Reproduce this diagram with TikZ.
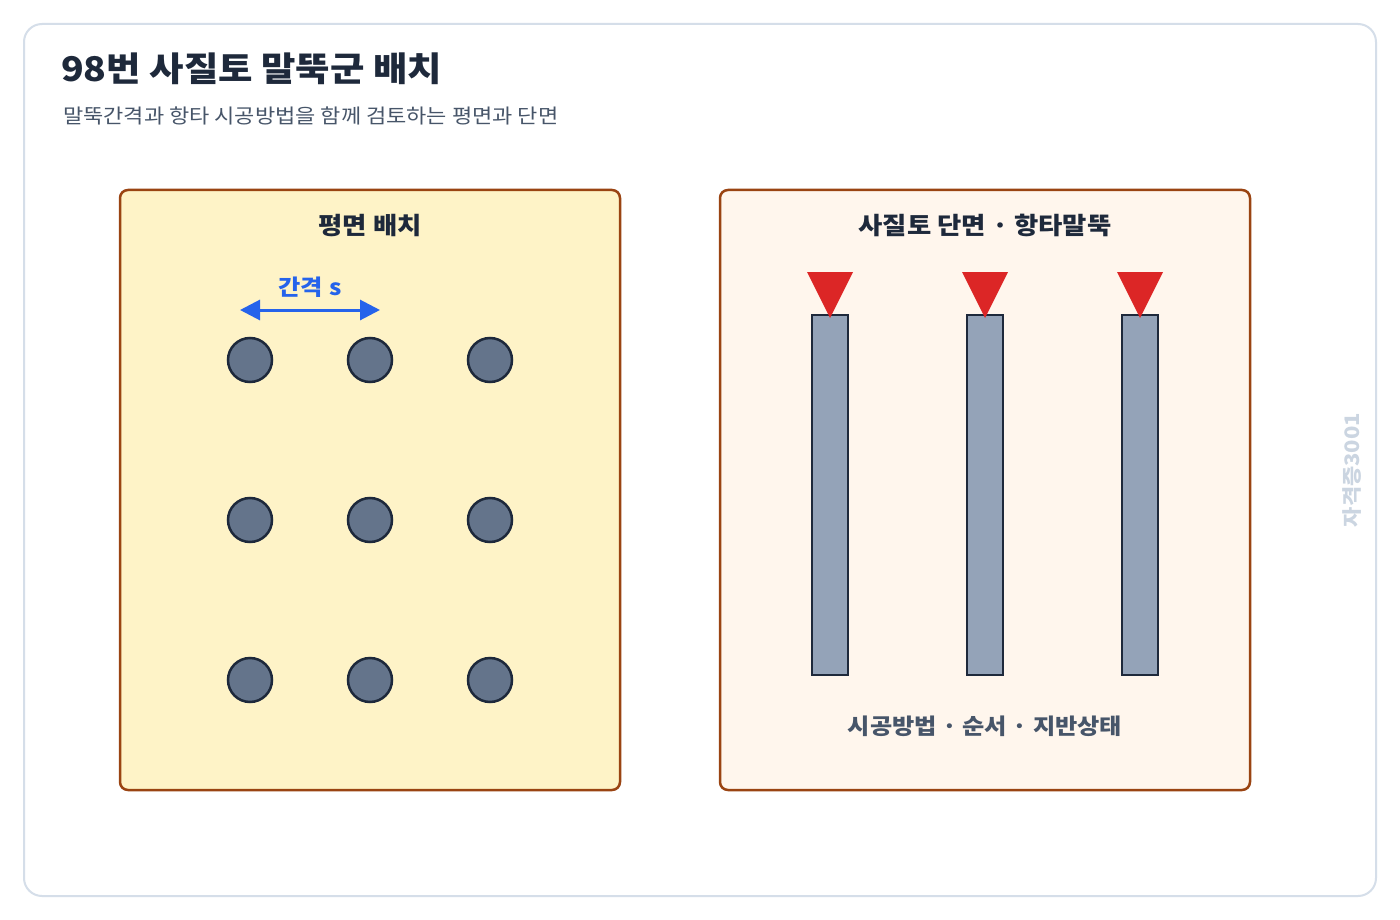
\documentclass[tikz,border=0pt]{standalone}
\usepackage{fontspec}
\setmainfont{Noto Sans CJK KR}[FakeStretch=1.1]
\usetikzlibrary{arrows.meta}
\definecolor{frame}{HTML}{D5DEE9}
\definecolor{ink}{HTML}{1E293B}
\definecolor{sub}{HTML}{475569}
\definecolor{brown}{HTML}{9A4412}
\definecolor{planfill}{HTML}{FEF3C7}
\definecolor{secfill}{HTML}{FFF6ED}
\definecolor{pilecirc}{HTML}{64748B}
\definecolor{pilebar}{HTML}{94A3B8}
\definecolor{hammer}{HTML}{DC2626}
\definecolor{blue}{HTML}{2563EB}
\definecolor{wm}{HTML}{CBD5E1}
\tikzset{
  panel/.style={draw=brown, line width=2.5pt, rounded corners=8pt},
  pilehead/.style={circle, draw=ink, fill=pilecirc, line width=2.5pt, minimum size=44pt, inner sep=0pt},
  pilebody/.style={draw=ink, fill=pilebar, line width=2.5pt, minimum width=36pt, minimum height=360pt, inner sep=0pt},
  hammertri/.style={fill=hammer},
  ptitle/.style={font=\fontsize{24}{28}\selectfont\bfseries, text=ink},
}
\begin{document}
\begin{tikzpicture}[x=1pt,y=-1pt]
\useasboundingbox (0,0) rectangle (1400,920);
\fill[white] (0,0) rectangle (1400,920);
\draw[frame, line width=2pt, rounded corners=18pt, fill=white] (24,24) rectangle (1376,896);
\node[anchor=base west, inner sep=0pt, font=\fontsize{34}{38}\selectfont\bfseries, text=ink] (title) at (61,82) {98번 사질토 말뚝군 배치};
\node[anchor=base west, inner sep=0pt, font=\fontsize{20}{24}\selectfont, text=sub] (subtitle) at (63,124) {말뚝간격과 항타 시공방법을 함께 검토하는 평면과 단면};
% left panel
\draw[panel, fill=planfill] (120,190) rectangle (620,790);
\node[ptitle, anchor=base] (lt) at (370,234) {평면 배치};
\foreach \i/\x in {1/250,2/370,3/490}
  \foreach \j/\y in {1/360,2/520,3/680}
    \node[pilehead] (c\i\j) at (\x,\y) {};
\coordinate (al) at (240,310);
\coordinate (ar) at (380,310);
\draw[blue, line width=3pt, {Triangle[length=20pt,width=20pt]}-{Triangle[length=20pt,width=20pt]}] (al) -- (ar);
\node[anchor=base, font=\fontsize{22}{26}\selectfont\bfseries, text=blue] (slab) at (310,295) {간격\hspace{0.3em}s};
% right panel
\draw[panel, fill=secfill] (720,190) rectangle (1250,790);
\node[ptitle, anchor=base] (rt) at (985,234) {사질토 단면 · 항타말뚝};
\foreach \k/\x in {1/830,2/985,3/1140} {
  \node[pilebody] (p\k) at (\x,495) {};
  \fill[hammertri] (\x-23,272) -- (\x+23,272) -- (\x,318) -- cycle;
}
\node[anchor=base, font=\fontsize{22}{26}\selectfont\bfseries, text=sub] (blab) at (985,734) {시공방법 · 순서 · 지반상태};
\node[rotate=90, font=\fontsize{20}{24}\selectfont\bfseries, text=wm] (wmk) at (1352,470) {자격증3001};
\end{tikzpicture}
\end{document}
